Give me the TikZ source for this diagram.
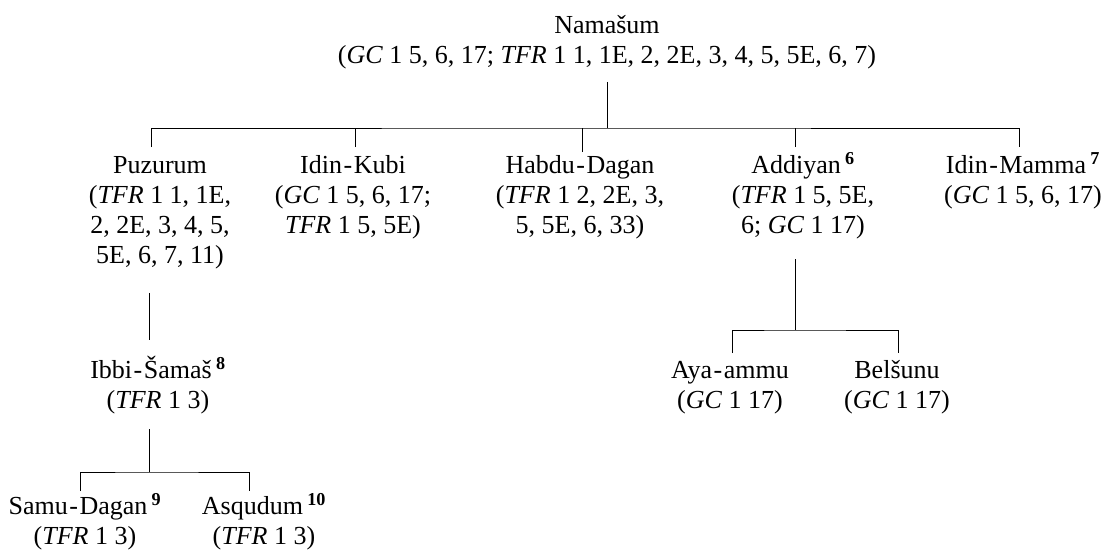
\documentclass[tikz,border=0pt]{standalone}
\usepackage{fontspec}
\setmainfont{Liberation Serif}

\def\hy{\kern1.5pt-\kern1.5pt}
\def\fn#1{\,\textsuperscript{\bfseries #1}}
\def\bary{128}

\begin{document}
\begin{tikzpicture}[
    x=1pt,y=-1pt,
    person/.style={align=center,anchor=north,inner sep=0pt,
        font=\fontsize{26}{30}\selectfont},
    link/.style={draw=black,line width=2.6pt},
]
\useasboundingbox (0,0) rectangle (1111,554);

%% Top of the tree
\node[person] (Nam) at (607,12) {\strut Nama\v{s}um\\
    (\textit{GC} 1 5, 6, 17; \textit{TFR} 1 1, 1E, 2, 2E, 3, 4, 5, 5E, 6, 7)};

%% Second generation
\node[person] (Puz) at (160,152) {\strut Puzurum\\(\textit{TFR} 1 1, 1E,\\
    2, 2E, 3, 4, 5,\\5E, 6, 7, 11)};
\node[person] (IdK) at (353,152) {\strut Idin\hy Kubi\\(\textit{GC} 1 5, 6, 17;\\
    \textit{TFR} 1 5, 5E)};
\node[person] (Hab) at (580,152) {\strut Habdu\hy Dagan\\(\textit{TFR} 1 2, 2E, 3,\\
    5, 5E, 6, 33)};
\node[person] (Add) at (803,152) {\strut Addiyan\fn{6}\\
    (\textit{TFR} 1 5, 5E,\\6; \textit{GC} 1 17)};
\node[person] (IdM) at (1023,152) {\strut Idin\hy Mamma\fn{7}\\
    (\textit{GC} 1 5, 6, 17)};

%% Puzurum's line
\node[person] (Ibb) at (158,356) {\strut Ibbi\hy\v{S}ama\v{s}\fn{8}\\
    (\textit{TFR} 1 3)};
\node[person] (Sam) at (85,493) {\strut Samu\hy Dagan\fn{9}\\
    (\textit{TFR} 1 3)};
\node[person] (Asq) at (264,493) {\strut Asqudum\fn{10}\\
    (\textit{TFR} 1 3)};

%% Addiyan's line
\node[person] (Aya) at (730,357) {\strut Aya\hy ammu\\(\textit{GC} 1 17)};
\node[person] (Bel) at (897,357) {\strut Bel\v{s}unu\\(\textit{GC} 1 17)};

% Bar points and tick ends
\coordinate (Nam-b) at (607,\bary);
\coordinate (Puz-t) at ([xshift=-9pt,yshift=5pt]Puz.north);
\coordinate (IdK-t) at ([xshift=2pt,yshift=5pt]IdK.north);
\coordinate (Hab-t) at ([xshift=2pt,yshift=0pt]Hab.north);
\coordinate (Add-t) at ([xshift=-8pt,yshift=5pt]Add.north);
\coordinate (IdM-t) at ([xshift=-4pt,yshift=5pt]IdM.north);
\coordinate (Ibb-b) at (149,472);
\coordinate (Add-b) at (795,330);

{[link]
    \draw[shorten <=13pt] (Nam) -- (Nam-b);
    \draw (Puz-t) |- (Nam-b) -| (IdM-t);
    \draw (IdK-t) -- (IdK-t |- Nam-b);
    \draw (Hab-t) -- (Hab-t |- Nam-b);
    \draw (Add-t) -- (Add-t |- Nam-b);

    % Puzurum down to his sons
    \draw ([yshift=-24pt]Puz.south -| Ibb-b) -- ([yshift=16pt]Ibb.north -| Ibb-b);
    \draw ([yshift=-15pt]Ibb.south -| Ibb-b) -- (Ibb-b);
    \draw ([xshift=-5pt,yshift=2pt]Sam.north) |- (Ibb-b)
        -| ([xshift=-15pt,yshift=2pt]Asq.north);

    % Addiyan down to his sons
    \draw ([yshift=-20pt]Add.south -| Add-b) -- (Add-b);
    \draw ([xshift=2pt,yshift=4pt]Aya.north) |- (Add-b)
        -| ([xshift=1pt,yshift=4pt]Bel.north);
}
\end{tikzpicture}
\end{document}
